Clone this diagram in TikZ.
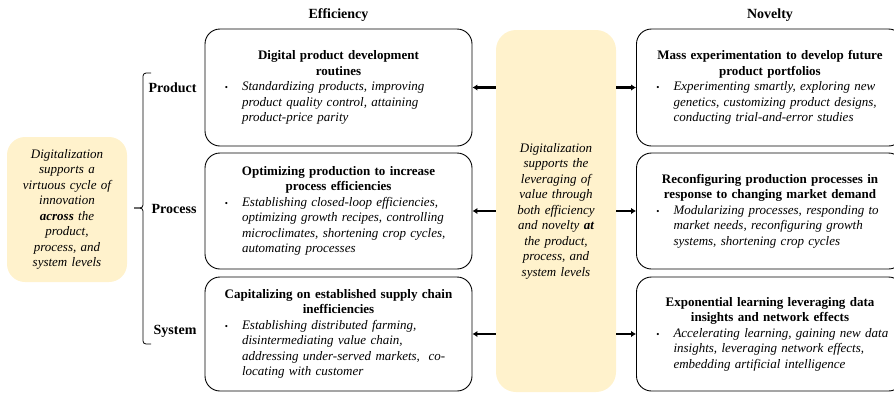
\documentclass[tikz,border=0pt]{standalone}
\usepackage{fontspec}
\setmainfont{Liberation Serif}
\usetikzlibrary{arrows.meta,positioning}

\definecolor{band}{HTML}{FFF2CC}

% title line(s), then one bulleted italic item
\newcommand{\celltext}[2]{{\centering\bfseries #1\par}%
  {\raggedright\leftskip=26pt\itshape\noindent\llap{{\upshape\fontsize{9}{9}\selectfont\textbullet}\hspace{14pt}}#2\par}}

\begin{document}
\begin{tikzpicture}[x=1pt, y=-1pt, font=\fontsize{13}{15.5}\selectfont,
  cell/.style={draw, line width=0.9pt, rounded corners=15pt, inner xsep=0pt, text width=245pt, minimum width=267pt},
  band/.style={fill=band, rounded corners=18pt, inner xsep=0pt, text width=120pt, align=center, font=\fontsize{13}{15.5}\selectfont\itshape},
  head/.style={font=\fontsize{14}{16}\selectfont\bfseries},
  push/.style={line width=2.6pt, -{Latex[length=5pt,width=6.5pt]}}]
\useasboundingbox (0,0) rectangle (894,392);
\clip (0,0) rectangle (894,392);
% column heads
\node[head] (efficiency) at (338.5,15) {Efficiency};
\node[head] (novelty) at (770,15) {Novelty};
% efficiency column
\node[cell, minimum height=117pt] (eff1) at (338.5,87.5)
  {\celltext{Digital product development\\routines}{Standardizing products, improving\\product quality control, attaining\\product-price parity}};
\node[cell, minimum height=116pt] (eff2) at (338.5,211)
  {\celltext{Optimizing production to increase\\process efficiencies}{Establishing closed-loop efficiencies,\\optimizing growth recipes, controlling\\microclimates, shortening crop cycles,\\automating processes}};
\node[cell, minimum height=114pt] (eff3) at (338.5,334)
  {\celltext{Capitalizing on established supply chain\\inefficiencies}{Establishing distributed farming,\\disintermediating value chain,\\addressing under-served markets,~~co-\\locating with customer}};
% novelty column
\node[cell, minimum height=117pt] (nov1) at (770,87.5)
  {\celltext{Mass experimentation to develop future\\product portfolios}{Experimenting smartly, exploring new\\genetics, customizing product designs,\\conducting trial-and-error studies}};
\node[cell, minimum height=116pt] (nov2) at (770,211)
  {\celltext{Reconfiguring production processes in\\response to changing market demand}{Modularizing processes, responding to\\market needs, reconfiguring growth\\systems, shortening crop cycles}};
\node[cell, minimum height=114pt] (nov3) at (770,334)
  {\celltext{Exponential learning leveraging data\\insights and network effects}{Accelerating learning, gaining new data\\insights, leveraging network effects,\\embedding artificial intelligence}};
% yellow bands
\node[band, rounded corners=20pt, minimum height=362pt] (lever) at (556,211)
  {Digitalization\\supports the\\leveraging of\\value through\\both efficiency\\and novelty \textbf{at}\\the product,\\process, and\\system levels};
\node[band, minimum height=145pt] (cycle) at (67,209.5)
  {Digitalization\\supports a\\virtuous cycle of\\innovation\\\textbf{across} the\\product,\\process, and\\system levels};
% levels with brace
\node[head, anchor=east] (product) at (200,88) {Product};
\node[head, anchor=east] (process) at (200,209) {Process};
\node[head, anchor=east] (system) at (200,331) {System};
\draw[line width=0.8pt, rounded corners=3pt] (151,73) -- (143,73) -- (143,208) -- (134,208);
\draw[line width=0.8pt, rounded corners=3pt] (134,208) -- (143,208) -- (143,344) -- (151,344);
% arrows out of the middle band
\foreach \r in {1,2,3} {
  \draw[push] (lever.west |- eff\r.east) -- (eff\r.east);
  \draw[push] (lever.east |- nov\r.west) -- (nov\r.west);
}
\end{tikzpicture}
\end{document}
